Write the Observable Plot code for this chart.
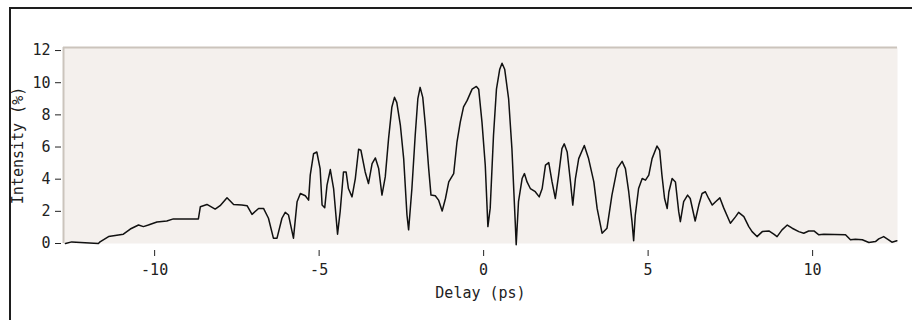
<!DOCTYPE html>
<html>
<head>
<meta charset="utf-8">
<script src="https://cdn.jsdelivr.net/npm/d3@7"></script>
<script src="https://cdn.jsdelivr.net/npm/@observablehq/plot@0.6"></script>
<style>
  html, body { margin: 0; padding: 0; background: #ffffff; }
  #wrap { position: relative; width: 912px; height: 320px; overflow: hidden; }
  #chart { position: absolute; left: 0; top: 0; }
  #border { position: absolute; left: 9px; top: 7px; right: 0; bottom: 0;
            border-left: 2px solid #1e1e1e; border-top: 2px solid #1e1e1e; pointer-events: none; }
</style>
</head>
<body>
<div id="wrap"><div id="chart"></div><div id="border"></div></div>
<script>
const delay = [
  -12.71, -12.52, -11.71, -11.66, -11.40, -11.20, -10.95, -10.74, -10.49, -10.34, -10.19, -9.93, -9.63, -9.43,
  -8.67, -8.61, -8.41, -8.16, -8.01, -7.80, -7.60, -7.35, -7.19, -7.04, -6.84, -6.69, -6.54, -6.39, -6.28,
  -6.13, -6.03, -5.93, -5.78, -5.67, -5.57, -5.42, -5.32, -5.27, -5.17, -5.07, -4.97, -4.91, -4.83, -4.76,
  -4.66, -4.56, -4.44, -4.36, -4.26, -4.18, -4.11, -4.00, -3.90, -3.80, -3.73, -3.60, -3.50, -3.39, -3.29,
  -3.19, -3.09, -2.99, -2.89, -2.79, -2.71, -2.64, -2.53, -2.43, -2.33, -2.28, -2.18, -2.08, -2.00, -1.93,
  -1.85, -1.77, -1.67, -1.60, -1.47, -1.37, -1.26, -1.16, -1.06, -0.91, -0.81, -0.71, -0.61, -0.50, -0.35,
  -0.22, -0.15, -0.05, 0.05, 0.13, 0.20, 0.30, 0.39, 0.49, 0.56, 0.64, 0.76, 0.86, 0.96, 0.99, 1.06, 1.17,
  1.24, 1.32, 1.42, 1.57, 1.69, 1.78, 1.88, 1.98, 2.08, 2.18, 2.28, 2.38, 2.45, 2.54, 2.64, 2.71, 2.79,
  2.89, 3.06, 3.19, 3.35, 3.45, 3.60, 3.75, 3.90, 4.06, 4.21, 4.31, 4.41, 4.51, 4.56, 4.61, 4.71, 4.82,
  4.92, 5.02, 5.12, 5.27, 5.35, 5.42, 5.50, 5.58, 5.63, 5.73, 5.83, 5.93, 5.98, 6.08, 6.20, 6.28, 6.43,
  6.54, 6.64, 6.74, 6.84, 6.95, 7.05, 7.18, 7.30, 7.50, 7.66, 7.75, 7.91, 8.06, 8.16, 8.31, 8.47, 8.67,
  8.82, 8.92, 9.07, 9.23, 9.38, 9.58, 9.73, 9.88, 10.04, 10.19, 10.34, 11.00, 11.15, 11.30, 11.51, 11.71,
  11.91, 12.01, 12.16, 12.31, 12.41, 12.56
];
const intensity = [
  0.00, 0.10, 0.00, 0.10, 0.43, 0.50, 0.58, 0.90, 1.15, 1.05, 1.15, 1.34, 1.40, 1.53,
  1.53, 2.29, 2.43, 2.14, 2.35, 2.84, 2.43, 2.39, 2.35, 1.81, 2.18, 2.18, 1.57, 0.33, 0.33,
  1.57, 1.94, 1.77, 0.33, 2.60, 3.11, 2.97, 2.70, 4.25, 5.58, 5.69, 4.66, 2.39, 2.22, 3.63,
  4.60, 3.42, 0.58, 2.00, 4.45, 4.45, 3.42, 2.90, 4.04, 5.86, 5.80, 4.45, 3.73, 4.97, 5.32,
  4.66, 3.01, 4.14, 6.51, 8.47, 9.09, 8.78, 7.34, 5.28, 1.77, 0.85, 3.42, 6.72, 8.99, 9.71,
  9.09, 7.34, 4.66, 3.01, 2.97, 2.70, 2.02, 2.80, 3.83, 4.35, 6.31, 7.55, 8.50, 8.90, 9.60,
  9.77, 9.60, 7.55, 4.87, 1.05, 2.20, 6.72, 9.60, 10.84, 11.21, 10.84, 8.99, 5.90, 1.36, -0.08, 2.60, 4.04,
  4.35, 3.83, 3.42, 3.22, 2.90, 3.42, 4.87, 5.03, 3.83, 2.80, 4.25, 5.90, 6.20, 5.69, 3.83, 2.39, 4.04,
  5.28, 6.10, 5.28, 3.83, 2.18, 0.64, 0.95, 3.01, 4.66, 5.11, 4.66, 3.22, 1.36, 0.17, 1.77, 3.42, 4.04,
  3.94, 4.25, 5.28, 6.06, 5.80, 4.25, 2.80, 2.18, 3.20, 4.04, 3.83, 1.98, 1.36, 2.60, 3.01, 2.80, 1.40,
  2.39, 3.11, 3.22, 2.80, 2.39, 2.60, 2.84, 2.20, 1.26, 1.67, 1.94, 1.67, 1.05, 0.74, 0.43, 0.74, 0.78,
  0.58, 0.43, 0.85, 1.15, 0.95, 0.74, 0.64, 0.78, 0.78, 0.54, 0.58, 0.54, 0.23, 0.27, 0.23, 0.06,
  0.12, 0.29, 0.43, 0.23, 0.08, 0.17
];
const xTicks = [-10, -5, 0, 5, 10];
const yTicks = [0, 2, 4, 6, 8, 10, 12];
const xDomain = [-12.77, 12.58];
const yDomain = [0, 12.19];
const xLabel = "Delay (ps)";
const yLabel = "Intensity (%)";

const data = delay.map((d, i) => ({delay: d, intensity: intensity[i]}));

const chart = Plot.plot({
  width: 912,
  height: 320,
  marginLeft: 63,
  marginRight: 15,
  marginTop: 47,
  marginBottom: 77,
  style: {fontFamily: "'DejaVu Sans Mono', monospace", fontSize: "15px", color: "#222", background: "transparent", overflow: "visible"},
  x: {domain: xDomain},
  y: {domain: yDomain},
  marks: [
    Plot.frame({fill: "#f4f0ed", stroke: "none"}),
    Plot.ruleY([yDomain[1]], {stroke: "#cbc4bc", strokeWidth: 2}),
    Plot.ruleX([xDomain[0]], {stroke: "#cbc4bc", strokeWidth: 2}),
    Plot.axisX({ticks: xTicks, tickFormat: d => String(d), tickSize: 6, tickPadding: 8, dy: 7, label: null, stroke: "#222"}),
    Plot.axisY({ticks: yTicks, tickFormat: d => String(d), tickSize: 6, tickPadding: 5, dx: -2, label: null, stroke: "#222"}),
    Plot.line(data, {x: "delay", y: "intensity", stroke: "#111", strokeWidth: 1.5}),
    Plot.text([xLabel], {frameAnchor: "bottom", dy: 50, lineAnchor: "middle", textAnchor: "middle", text: d => d, fill: "#222"}),
    Plot.text([yLabel], {frameAnchor: "left", dx: -45, rotate: -90, textAnchor: "middle", lineAnchor: "middle", text: d => d, fill: "#222"})
  ]
});
document.getElementById("chart").appendChild(chart);
</script>
</body>
</html>
